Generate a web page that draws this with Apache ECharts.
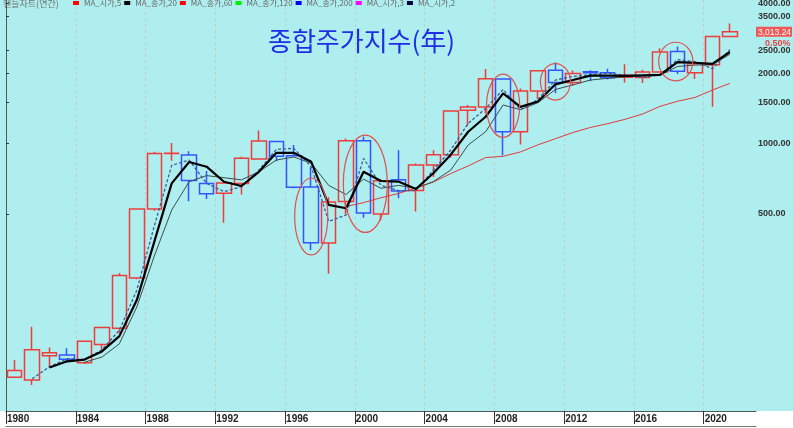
<!DOCTYPE html>
<html><head><meta charset="utf-8">
<script src="https://cdn.jsdelivr.net/npm/echarts@6/dist/echarts.min.js"></script>
<style>html,body{margin:0;padding:0;background:#fff}#c{width:793px;height:428px}</style>
</head><body><div id="c"></div>
<script>
// ---- data ----
const years = ['1980','1981','1982','1983','1984','1985','1986','1987','1988','1989',
  '1990','1991','1992','1993','1994','1995','1996','1997','1998','1999',
  '2000','2001','2002','2003','2004','2005','2006','2007','2008','2009',
  '2010','2011','2012','2013','2014','2015','2016','2017','2018','2019',
  '2020','2021','2022'];
const openV  = [100,97.4,123.5,124.5,115.3,138,162,266,525,907,
  894,676,614,676,860,1021,888,653,376,566,
  1030,500,700,630,810,896,1389,1435,1891,1124,
  1681,2063,1826,2031,2011,1926,1918,2026,2479,2010,
  2175,2874];
const closeV = [106.9,131.3,127.3,119.5,142.5,163.4,272.6,525.1,907.2,909.7,
  696.1,610.9,678.4,866.2,1027.4,882.9,651.2,376.3,562.5,1028.1,
  504.6,693.7,627.6,810.7,895.9,1379.4,1434.5,1897.1,1124.5,1682.8,
  2051,1825.7,1997.1,2011.3,1915.6,1961.3,2026.5,2467.5,2041,2197.7,
  2873.5,3013.24];
const lowV   = [99.5,92.7,110,115.5,114,131.4,153.9,263,516,844.8,
  566.3,580,459.1,605.9,855,840,645,350.7,277.4,498.4,
  482,468.8,584,512.3,719.6,870.8,1192.1,1345,892,992.7,
  1552.8,1644.1,1769.3,1850,1881.7,1829.8,1817.9,2026,1986,1891.8,
  1439.4,2869];
const highV  = [118.6,164.7,134,133,142.5,164,279.7,525.1,922.6,1007.8,
  928.8,763.1,691.5,879.9,1138.8,1025,986.8,792.3,590,1052.6,
  1070,704.5,937.6,822.2,936.1,1379.4,1464.7,2085.5,1901,1723,
  2052.6,2231.5,2057.3,2063.3,2093.1,2189.5,2073.9,2561.6,2607.1,2252.7,
  2878,3266];
// moving-average lines
const maOpen2 = [null,98.5,111,120,119,131,159,236,444,807,
  851,676,623,655,770,946,955,797,465,495,
  865,663,630,630,771,939,1222,1413,1706,1398,
  1546,1873,1940,1975,2000,1965,1920,1972,2290,2245,
  2093,2525];
const maOpen3 = [null,null,110,117,119,129,150,214,380,676,
  835,797,687,659,758,914,914,836,547,529,
  758,692,688,640,747,897,1125,1304,1641,1438,
  1516,1795,1873,1957,1957,1950,1960,1970,2235,2220,
  2196,2469];
const maOpen5 = [null,null,null,null,116,122,139,200,330,520,
  687,730,715,700,758,851,877,825,663,606,
  705,644,663,644,688,771,987,1125,1464,1398,
  1499,1706,1785,1873,1904,1935,1950,1965,2140,2170,
  2180,2413];
const maClose20 = [null,null,null,null,null,null,null,null,null,null,
  null,null,null,null,null,null,null,null,null,539,
  559,587,612,647,685,745,803,872,883,922,
  989,1050,1116,1173,1218,1272,1340,1445,1519,1577,
  1696,1812];
// annotation ellipses: [year, top value, bottom value, half-width (bands), x shift (bands)]
const circles = [
  ['1997', 713, 334, 0.95, 0],
  ['2000', 1089, 417, 1.26, 0.1],
  ['2008', 1985, 1064, 0.95, 0],
  ['2011', 2203, 1537, 0.86, 0],
  ['2018', 2718, 1858, 0.98, -0.1]
];
const yTickValues = [500, 1000, 1500, 2000, 2500, 3500, 4000];
const lastPrice = 3013.24;
const lastPriceText = '3,013.24';
const lastChange = '0.50%';
const chartTitle = '종합주가지수(年)';
const chartSubTitle = '캔들차트(연간)';

// ---- chart ----
const candleData = years.map((y, i) => openV[i] == null ? '-' : [openV[i], closeV[i], lowV[i], highV[i]]);
const RED = '#ee3c3c', BLUE = '#3355ff';
const chart = echarts.init(document.getElementById('c'), null, {renderer: 'canvas'});
const cjk = "'Noto Sans CJK KR', sans-serif";
const Y_MIN = 71.7, Y_MAX = 4122;
chart.setOption({
  animation: false,
  backgroundColor: '#AFEEEE',
  graphic: [{type: 'rect', left: 0, top: 411, shape: {width: 793, height: 17}, style: {fill: '#ffffff'}, z: -1, silent: true}],
  title: [
    {text: chartSubTitle, left: 3, top: -1, padding: 0, textStyle: {fontSize: 9, color: '#707070', fontWeight: 'normal', fontFamily: cjk}},
    {text: chartTitle, left: 268, top: 28, padding: 0, textStyle: {fontSize: 26, color: '#1e2ee6', fontWeight: 'normal', fontFamily: cjk}}
  ],
  legend: {
    left: 73, top: -1, padding: 0, itemGap: 3, itemWidth: 6, itemHeight: 4, icon: 'rect', selectedMode: false,
    textStyle: {fontSize: 8, color: '#6a6a6a', fontFamily: cjk},
    data: [
      {name: 'MA_시가,5', itemStyle: {color: '#ff0000'}},
      {name: 'MA_종가,20', itemStyle: {color: '#000000'}},
      {name: 'MA_종가,60', itemStyle: {color: '#ff0000'}},
      {name: 'MA_종가,120', itemStyle: {color: '#00ee00'}},
      {name: 'MA_종가,200', itemStyle: {color: '#0000ff'}},
      {name: 'MA_시가,3', itemStyle: {color: '#ff00ff'}},
      {name: 'MA_시가,2', itemStyle: {color: '#000040'}}
    ]
  },
  grid: {left: 6, right: 37, top: 0, bottom: 17, containLabel: false, outerBoundsMode: 'none'},
  xAxis: [
    {type: 'category', data: years, boundaryGap: true,
      axisLine: {show: true, lineStyle: {color: '#4a5a5a'}}, axisTick: {show: false}, axisLabel: {show: false}, splitLine: {show: false}},
    {type: 'value', min: 1980, max: 2023, interval: 4, position: 'bottom',
      axisLine: {show: false},
      axisTick: {show: true, length: 13, lineStyle: {color: '#333'}},
      axisLabel: {show: true, showMaxLabel: false, align: 'left', margin: 3, fontSize: 10, fontWeight: 'bold', color: '#222', fontFamily: 'Liberation Sans', padding: [0,0,0,1],
        formatter: v => (v % 4 === 0 ? String(v) : '')},
      splitLine: {show: true, showMaxLine: false, lineStyle: {color: '#c4cccc', type: [3, 3]}}},
    {type: 'value', min: 0, max: 1, position: 'bottom', offset: 15,
      axisLine: {show: true, lineStyle: {color: '#777'}}, axisTick: {show: false}, axisLabel: {show: false}, splitLine: {show: false}}
  ],
  yAxis: [
    {type: 'log', logBase: 10, min: Y_MIN, max: Y_MAX, position: 'right',
      axisLine: {show: true, lineStyle: {color: '#4a5a5a'}},
      axisTick: {show: true, length: 3, customValues: yTickValues, lineStyle: {color: '#333'}},
      axisLabel: {show: true, customValues: yTickValues, margin: 2, fontSize: 9, fontWeight: 'bold', color: '#333', fontFamily: 'Liberation Sans',
        formatter: v => Number(v).toFixed(2)},
      splitLine: {show: false}, minorTick: {show: false}},
    {type: 'value', min: 0, max: 1, position: 'left',
      axisLine: {show: true, lineStyle: {color: '#4a5a5a'}}, axisTick: {show: false}, axisLabel: {show: false}, splitLine: {show: false}},
    {type: 'log', logBase: 10, min: Y_MIN, max: Y_MAX, position: 'right',
      axisLine: {show: false}, axisTick: {show: false}, splitLine: {show: false}, minorTick: {show: false},
      axisLabel: {show: true, customValues: [lastPrice], margin: 0, padding: [11, 0, 0, 0],
        formatter: () => '{a|' + lastPriceText + '}\n{b|' + lastChange + '}',
        rich: {
          a: {backgroundColor: '#f05858', color: '#fff', fontSize: 8.5, fontFamily: 'Liberation Sans', padding: [1, 1, 0, 2], width: 33, height: 9, lineHeight: 10, align: 'left'},
          b: {color: '#e84848', fontSize: 9, fontWeight: 'bold', fontFamily: 'Liberation Sans', padding: [2, 0, 0, 9], lineHeight: 11, align: 'left'}
        }}}
  ],
  series: [
    {name: chartSubTitle, type: 'candlestick', xAxisIndex: 0, yAxisIndex: 0, data: candleData, barWidth: 15,
      itemStyle: {color: 'rgba(0,0,0,0)', color0: 'rgba(0,0,0,0)', borderColor: RED, borderColor0: BLUE, borderWidth: 1.5}},
    {name: 'MA_종가,20', type: 'line', data: maClose20, symbol: 'none', lineStyle: {color: '#e03a3a', width: 1}, itemStyle: {color: '#e03a3a'}, z: 3},
    {name: 'MA_시가,5', type: 'line', data: maOpen5, symbol: 'none', lineStyle: {color: '#3c4c4c', width: 1}, itemStyle: {color: '#3c4c4c'}, z: 3},
    {name: 'MA_시가,2', type: 'line', data: maOpen2, symbol: 'none', lineStyle: {color: '#3a5c9c', width: 1.3, type: [3, 2]}, itemStyle: {color: '#3a5c9c'}, z: 4},
    {name: 'MA_시가,3', type: 'line', data: maOpen3, symbol: 'none', lineStyle: {color: '#000', width: 2.2}, itemStyle: {color: '#000'}, z: 5},
    {name: 'MA_종가,60', type: 'line', data: [], symbol: 'none'},
    {name: 'MA_종가,120', type: 'line', data: [], symbol: 'none'},
    {name: 'MA_종가,200', type: 'line', data: [], symbol: 'none'},
    {name: 'circles', type: 'custom', xAxisIndex: 0, yAxisIndex: 0, data: circles, encode: {x: 0, y: [1, 2]}, z: 6, silent: true,
      renderItem: function (params, api) {
        const cat = api.value(0);
        const top = api.coord([cat, api.value(1)]);
        const bot = api.coord([cat, api.value(2)]);
        const bw = api.size([1, 1000])[0];
        return {type: 'ellipse', shape: {cx: top[0] + api.value(4) * bw, cy: (top[1] + bot[1]) / 2, rx: api.value(3) * bw, ry: (bot[1] - top[1]) / 2},
          style: {fill: 'none', stroke: '#e05050', lineWidth: 1.2}};
      }}
  ]
});
</script></body></html>
